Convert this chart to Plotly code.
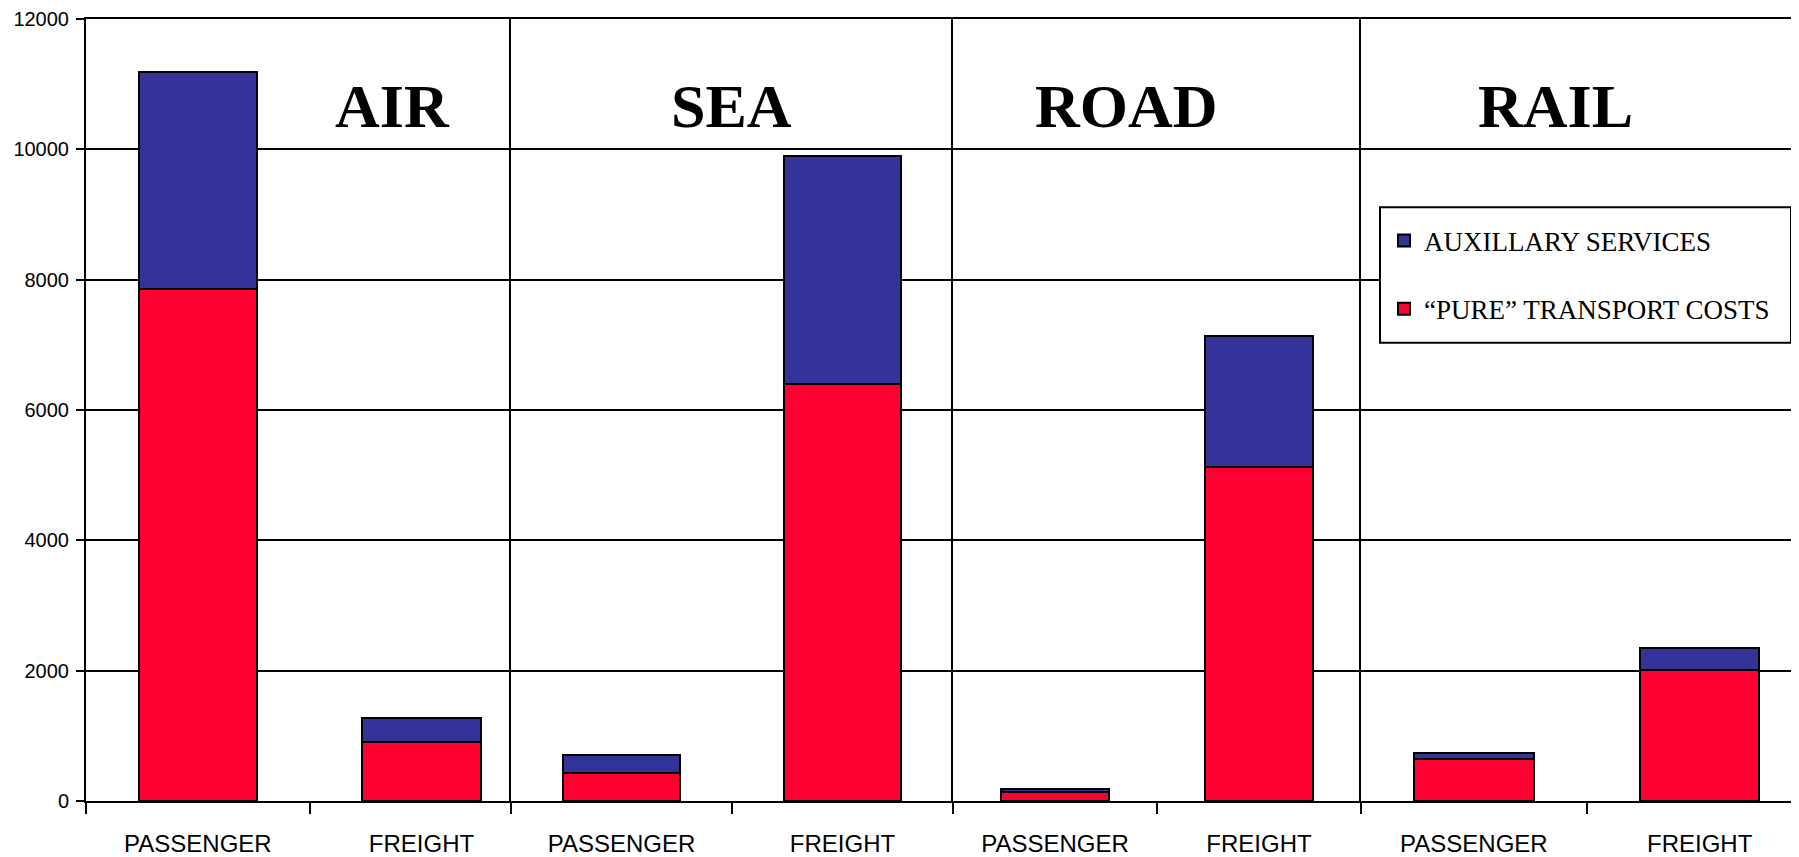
import plotly.graph_objects as go
from plotly.subplots import make_subplots

# ---------------- data ----------------
modes = ["AIR", "SEA", "ROAD", "RAIL"]
categories = ["PASSENGER", "FREIGHT"]

air_pure = [7850, 905]
air_aux = [3330, 375]
sea_pure = [435, 6400]
sea_aux = [265, 3500]
road_pure = [140, 5120]
road_aux = [50, 2020]
rail_pure = [650, 2010]
rail_aux = [85, 340]

pure_series = [air_pure, sea_pure, road_pure, rail_pure]
aux_series = [air_aux, sea_aux, road_aux, rail_aux]

pure_name = "\u201cPURE\u201d TRANSPORT COSTS"
aux_name = "AUXILLARY SERVICES"

y_ticks = [0, 2000, 4000, 6000, 8000, 10000, 12000]
y_tick_text = ["0", "2000", "4000", "6000", "8000", "10000", "12000"]

RED = "#FF0030"
BLUE = "#333399"

# ---------------- layout geometry (screen pixels) ----------------
OFF = 8                      # default page body margin
SW, SH = 1799, 857           # screen size
W, H = SW - OFF, SH - OFF    # figure size
ML, MR, MT, MB = 86 - OFF, 0, 16 - OFF, SH - 801
PW = W - ML - MR
PH = H - MT - MB


def px_x(px):
    return (px - OFF - ML) / PW


def px_y(py):
    return (OFF + MT + PH - py) / PH


panel_edges = [86, 511, 953, 1361, 1799]
x_ranges = [[-0.5, 1.4], [-0.5, 1.5], [-0.5, 1.5], [-0.5, 1.44]]

fig = make_subplots(rows=1, cols=4, shared_yaxes=False, horizontal_spacing=0)

for i in range(4):
    fig.add_trace(
        go.Bar(
            x=categories, y=pure_series[i], name=pure_name,
            marker=dict(color=RED, line=dict(color="black", width=2)),
            width=0.53, legendgroup="pure", legendrank=2, showlegend=(i == 0),
        ),
        row=1, col=i + 1,
    )
    fig.add_trace(
        go.Bar(
            x=categories, y=aux_series[i], name=aux_name,
            marker=dict(color=BLUE, line=dict(color="black", width=2)),
            width=0.53, legendgroup="aux", legendrank=1, showlegend=(i == 0),
        ),
        row=1, col=i + 1,
    )

for i in range(4):
    xa = "xaxis" if i == 0 else f"xaxis{i+1}"
    ya = "yaxis" if i == 0 else f"yaxis{i+1}"
    fig.layout[xa].update(
        domain=[px_x(panel_edges[i]), px_x(panel_edges[i + 1])],
        range=x_ranges[i],
        showline=True, linecolor="black", linewidth=2, mirror=True,
        ticks="outside", ticklen=11, tickwidth=2, tickcolor="black",
        tickson="boundaries", showgrid=False,
        tickfont=dict(family="Liberation Sans", size=24, color="black"),
        ticklabelstandoff=20,
    )
    fig.layout[ya].update(
        range=[0, 12000], tickvals=y_ticks, ticktext=y_tick_text,
        showline=True, linecolor="black", linewidth=2,
        showgrid=True, gridcolor="black", gridwidth=2, zeroline=False,
        ticks="outside" if i == 0 else "", ticklen=8, tickwidth=2, tickcolor="black",
        showticklabels=(i == 0), ticklabeloverflow="allow",
        tickfont=dict(family="Liberation Sans", size=20, color="black"),
        ticklabelstandoff=3,
    )

# panel titles
title_centers = [392, 731, 1126, 1555]
for name, cx in zip(modes, title_centers):
    fig.add_annotation(
        x=px_x(cx), y=px_y(103), xref="paper", yref="paper",
        text=f"<b>{name}</b>", showarrow=False,
        xanchor="center", yanchor="middle",
        font=dict(family="Liberation Serif", size=62, color="black"),
    )

# legend box
fig.add_shape(
    type="rect", xref="paper", yref="paper",
    x0=px_x(1380), x1=px_x(1791), y0=px_y(341), y1=px_y(205),
    fillcolor="white", line=dict(color="black", width=2), layer="above",
)

fig.update_layout(
    width=W, height=H,
    margin=dict(l=ML, r=MR, t=MT, b=MB),
    paper_bgcolor="white", plot_bgcolor="white",
    barmode="stack", bargap=0.47,
    showlegend=True,
    legend=dict(
        x=px_x(1384), y=px_y(273), xanchor="left", yanchor="middle",
        bgcolor="rgba(0,0,0,0)", borderwidth=0,
        traceorder="grouped", tracegroupgap=30,
        font=dict(family="Liberation Serif", size=27, color="black"),
    ),
)

fig.write_html("out.html")
